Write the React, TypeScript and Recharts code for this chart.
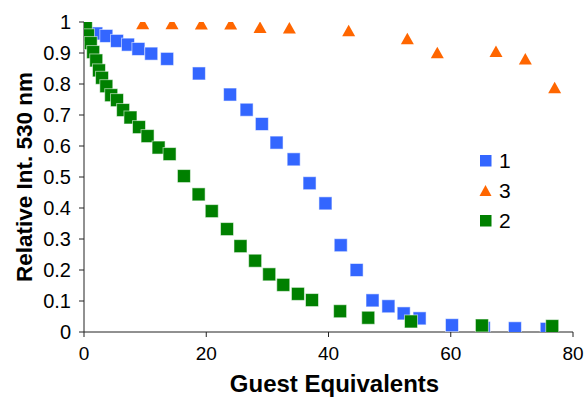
import { ScatterChart, Scatter, XAxis, YAxis } from "recharts";

// compound 1 (blue squares)
const x1 = [0, 2.0, 3.65, 5.4, 7.2, 8.9, 11.0, 13.6, 18.8, 23.9, 26.6, 29.1, 31.5, 34.3, 36.9, 39.5, 42.0, 44.6, 47.2, 49.8, 52.3, 54.9, 60.2, 65.4, 70.5, 75.7];
const y1 = [1.0, 0.963, 0.955, 0.939, 0.927, 0.913, 0.898, 0.881, 0.834, 0.766, 0.717, 0.671, 0.611, 0.557, 0.48, 0.415, 0.28, 0.2, 0.102, 0.083, 0.06, 0.044, 0.022, 0.013, 0.012, 0.01];

// compound 3 (orange triangles)
const x3 = [0, 9.6, 14.4, 19.2, 24.0, 28.8, 33.6, 43.3, 52.9, 57.8, 67.4, 72.2, 77.0];
const y3 = [1.0, 0.993, 0.993, 0.992, 0.992, 0.981, 0.979, 0.97, 0.944, 0.899, 0.903, 0.879, 0.786];

// compound 2 (green squares)
const x2 = [0, 0.3, 0.65, 1.1, 1.5, 2.0, 2.45, 2.95, 3.65, 4.45, 5.4, 6.4, 7.6, 9.0, 10.4, 12.2, 14.0, 16.35, 18.75, 20.9, 23.4, 25.6, 28.0, 30.3, 32.6, 35.0, 37.3, 41.9, 46.5, 53.5, 65.1, 76.6];
const y2 = [1.0, 0.984, 0.957, 0.932, 0.903, 0.876, 0.844, 0.82, 0.793, 0.764, 0.748, 0.716, 0.692, 0.661, 0.632, 0.595, 0.574, 0.503, 0.444, 0.39, 0.332, 0.277, 0.23, 0.186, 0.152, 0.123, 0.103, 0.067, 0.046, 0.034, 0.021, 0.019];

const xTicks = [0, 20, 40, 60, 80];
const yTicks = [0, 0.1, 0.2, 0.3, 0.4, 0.5, 0.6, 0.7, 0.8, 0.9, 1];
const legendOrder = ["1", "3", "2"];

const BLUE = "#3366ff";
const ORANGE = "#ff6600";
const GREEN = "#008000";
const FONT = "'Liberation Sans', Arial, Helvetica, sans-serif";

const toPoints = (xs: number[], ys: number[]) => xs.map((x, i) => ({ x, y: ys[i] }));

const data1 = toPoints(x1, y1);
const data3 = toPoints(x3, y3);
const data2 = toPoints(x2, y2);

const squareShape = (color: string) => (props: any) => {
  const { cx, cy } = props;
  return <rect x={cx - 6.5} y={cy - 6.5} width={13} height={13} fill={color} stroke="rgba(255,255,255,0.55)" strokeWidth={1} />;
};

const triangleShape = (color: string) => (props: any) => {
  const { cx, cy } = props;
  const pts = `${cx},${cy - 6.5} ${cx + 6.5},${cy + 5} ${cx - 6.5},${cy + 5}`;
  return <polygon points={pts} fill={color} />;
};

const legendMarker = (name: string) => {
  if (name === "3") {
    return <polygon points="6.5,1 12.5,12 0.5,12" fill={ORANGE} />;
  }
  return <rect x={1} y={1} width={11.5} height={11.5} fill={name === "1" ? BLUE : GREEN} />;
};

export default function App() {
  return (
    <div style={{ position: "absolute", left: 0, top: 0, width: 585, height: 397, background: "#fff" }}>
      <ScatterChart width={585} height={397} margin={{ top: 22, right: 12, bottom: 0, left: 0 }}>
        <XAxis
          type="number"
          dataKey="x"
          domain={[0, 80]}
          ticks={xTicks}
          interval={0}
          allowDataOverflow
          height={65}
          tickSize={5}
          tickMargin={10}
          stroke="#222"
          tick={{ fill: "#000", fontSize: 19, fontFamily: FONT }}
          label={{
            value: "Guest Equivalents",
            position: "insideBottom",
            offset: 5,
            dx: 6,
            style: { fontSize: 24, fontWeight: "bold", fill: "#000", fontFamily: FONT },
          }}
        />
        <YAxis
          type="number"
          dataKey="y"
          domain={[0, 1]}
          ticks={yTicks}
          interval={0}
          allowDataOverflow
          width={84}
          tickSize={5}
          tickMargin={8}
          stroke="#222"
          tickFormatter={(v: number) => String(v)}
          tick={{ fill: "#000", fontSize: 20, fontFamily: FONT }}
          label={{
            value: "Relative Int. 530 nm",
            angle: -90,
            position: "insideLeft",
            offset: 24,
            style: { textAnchor: "middle", fontSize: 22.5, fontWeight: "bold", fill: "#000", fontFamily: FONT },
          }}
        />
        <Scatter name="1" data={data1} fill={BLUE} shape={squareShape(BLUE)} isAnimationActive={false} />
        <Scatter name="3" data={data3} fill={ORANGE} shape={triangleShape(ORANGE)} isAnimationActive={false} />
        <Scatter name="2" data={data2} fill={GREEN} shape={squareShape(GREEN)} isAnimationActive={false} />
      </ScatterChart>
      <div style={{ position: "absolute", left: 479, top: 146, fontFamily: FONT }}>
        {legendOrder.map((name) => (
          <div key={name} style={{ display: "flex", alignItems: "center", height: 30 }}>
            <svg width={14} height={14}>{legendMarker(name)}</svg>
            <span style={{ marginLeft: 6, fontSize: 21, color: "#000", lineHeight: "30px" }}>{name}</span>
          </div>
        ))}
      </div>
    </div>
  );
}
